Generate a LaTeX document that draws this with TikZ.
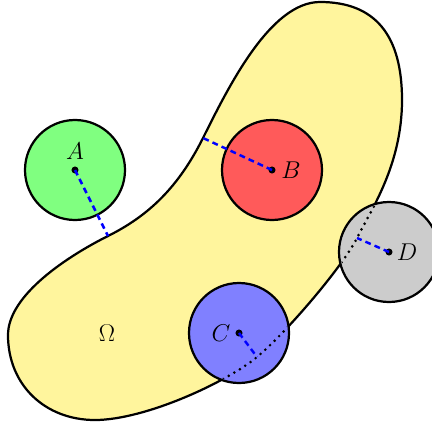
\documentclass[tikz,border=0pt]{standalone}
\usepackage{tikz}
\usepackage{amsmath}
\usetikzlibrary{positioning}
\definecolor{camarillo}{HTML}{FFF59D}
\definecolor{cverde}{HTML}{80FF80}
\definecolor{crojo}{HTML}{FF5A5A}
\definecolor{cazul}{HTML}{8080FF}
\definecolor{cgris}{HTML}{CCCCCC}
\tikzset{
  disco/.style={circle,draw=black,line width=1.9pt,minimum size=3cm,inner sep=0pt},
  punto/.style={circle,fill=black,inner sep=0pt,minimum size=6pt},
  radio/.style={draw=blue,line width=2.1pt,dash pattern=on 5pt off 3.5pt},
  borde/.style={draw=black,line width=1.9pt,fill=camarillo},
  oculto/.style={draw=black,line width=2.5pt,line cap=round,dash pattern=on 0pt off 5.5pt},
  et/.style={font=\fontsize{20}{22}\selectfont,inner sep=1pt},
}
\newcommand{\formaomega}{(320,2) .. controls (375,2) and (402,35) .. (402,100)
  .. controls (402,165) and (371,210) .. (bD)
  .. controls (343,266) and (287,332) .. (bC)
  .. controls (227,382) and (145,420) .. (95,420)
  .. controls (45,420) and (8,385) .. (8,335)
  .. controls (8,295) and (68,256) .. (bA)
  .. controls (148,216) and (178,188) .. (bB)
  .. controls (228,88) and (270,2) .. (320,2) -- cycle}
\begin{document}
\begin{tikzpicture}[x=0.03cm,y=-0.03cm]
\useasboundingbox (0,0) rectangle (432,424);

% puntos del borde mas cercanos
\coordinate (bA) at (108,236);
\coordinate (bB) at (203,138);
\coordinate (bC) at (257,357);
\coordinate (bD) at (357,238);

\draw[borde] \formaomega;
\node[et] (om) at (107,333) {$\Omega$};

\node[disco,fill=cverde] (dA) at (75,170) {};
\node[disco,fill=crojo] (dB) at (272,170) {};
\node[disco,fill=cazul] (dC) at (239,333) {};
\node[disco,fill=cgris] (dD) at (389,252) {};

% parte del borde tapada por los discos
\foreach \d in {dC,dD}{
  \begin{scope}
    \clip (\d.center) circle (1.45cm);
    \draw[oculto] \formaomega;
  \end{scope}
}

\foreach \n in {A,B,C,D}{
  \node[punto] (p\n) at (d\n.center) {};
  \draw[radio] (p\n.center) -- (b\n);
}

\node[et] (lA) at (75,151) {$A$};
\node[et] (lB) at (291,170) {$B$};
\node[et] (lC) at (221,333) {$C$};
\node[et] (lD) at (407,252) {$D$};

\end{tikzpicture}
\end{document}
